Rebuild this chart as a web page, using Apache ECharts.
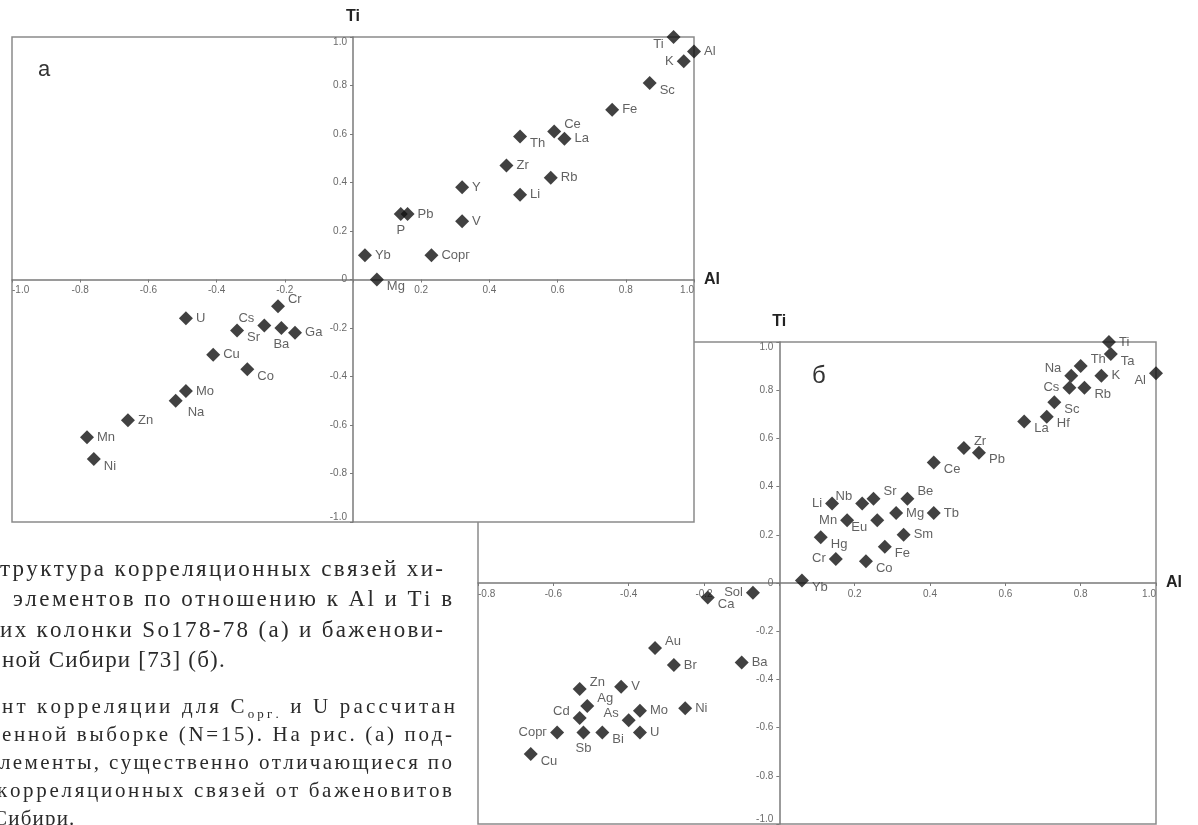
<!DOCTYPE html>
<html>
<head>
    <meta charset="utf-8" />
    <title>Корреляционные связи Al и Ti</title>
    <script src="https://cdn.jsdelivr.net/npm/echarts@6.0.0/dist/echarts.min.js"></script>
    <style>html, body { margin: 0; padding: 0; background: #fff; overflow: hidden; }</style>
</head>
<body>
    <div id="main" style="width: 1198px; height: 825px;"></div>

    <script type="text/javascript">
        // (а) column So178-78: element, r with Al, r with Ti
        var elemA = ['Ti', 'Al', 'K', 'Sc', 'Fe', 'Ce', 'La', 'Th', 'Zr', 'Rb', 'Li', 'Y', 'V', 'Pb', 'P', 'Сорг',
            'Yb', 'Mg', 'U', 'Cr', 'Cs', 'Ba', 'Ga', 'Sr', 'Cu', 'Co', 'Mo', 'Na', 'Zn', 'Mn', 'Ni'];
        var alA = [0.94, 1.0, 0.97, 0.87, 0.76, 0.59, 0.62, 0.49, 0.45, 0.58, 0.49, 0.32, 0.32, 0.16, 0.14, 0.23,
            0.035, 0.07, -0.49, -0.22, -0.26, -0.21, -0.17, -0.34, -0.41, -0.31, -0.49, -0.52, -0.66, -0.78, -0.76];
        var tiA = [1.0, 0.94, 0.90, 0.81, 0.70, 0.61, 0.58, 0.59, 0.47, 0.42, 0.35, 0.38, 0.24, 0.27, 0.27, 0.10,
            0.10, 0.0, -0.16, -0.11, -0.19, -0.20, -0.22, -0.21, -0.31, -0.37, -0.46, -0.50, -0.58, -0.65, -0.74];

        // (б) bazhenovites of West Siberia
        var elemB = ['Ti', 'Ta', 'Th', 'Na', 'K', 'Cs', 'Rb', 'Al', 'Sc', 'Hf', 'La', 'Zr', 'Pb', 'Ce', 'Li', 'Nb',
            'Sr', 'Be', 'Mg', 'Tb', 'Mn', 'Eu', 'Hg', 'Sm', 'Fe', 'Cr', 'Co', 'Yb', 'Sol', 'Ca', 'Au', 'Br', 'Ba',
            'Zn', 'V', 'Ag', 'Cd', 'Mo', 'Ni', 'As', 'Сорг', 'Sb', 'Bi', 'U', 'Cu'];
        var alB = [0.875, 0.88, 0.80, 0.775, 0.855, 0.77, 0.81, 1.0, 0.73, 0.71, 0.65, 0.49, 0.53, 0.41, 0.14, 0.22,
            0.25, 0.34, 0.31, 0.41, 0.18, 0.26, 0.11, 0.33, 0.28, 0.15, 0.23, 0.06, -0.07, -0.19, -0.33, -0.28, -0.10,
            -0.53, -0.42, -0.51, -0.53, -0.37, -0.25, -0.40, -0.59, -0.52, -0.47, -0.37, -0.66];
        var tiB = [1.0, 0.95, 0.90, 0.86, 0.86, 0.81, 0.81, 0.87, 0.75, 0.69, 0.67, 0.56, 0.54, 0.50, 0.33, 0.33,
            0.35, 0.35, 0.29, 0.29, 0.26, 0.26, 0.19, 0.20, 0.15, 0.10, 0.09, 0.01, -0.04, -0.06, -0.27, -0.34, -0.33,
            -0.44, -0.43, -0.51, -0.56, -0.53, -0.52, -0.57, -0.62, -0.62, -0.62, -0.62, -0.71];

        // where each point's name sits relative to the marker
        var placeA = ['lb', 'r', 'l', 'rb', 'r', 'ra', 'r', 'rb', 'r', 'r', 'r', 'r', 'r', 'r', 'b', 'r',
            'r', 'rb', 'r', 'ra', 'la', 'b', 'r', 'rb', 'r', 'rb', 'r', 'rb2', 'r', 'r', 'rb'];
        var placeB = ['r', 'rb', 'ra', 'la', 'r', 'l', 'rb', 'lb', 'rb', 'rb', 'rb', 'ra', 'rb', 'rb', 'l', 'la',
            'ra', 'ra', 'r', 'r', 'l', 'lb', 'rb', 'r', 'rb', 'l', 'rb', 'rb', 'l', 'rb', 'ra', 'r', 'r',
            'ra', 'r', 'ra', 'la', 'r', 'r', 'la', 'l', 'b', 'rb', 'r', 'rb'];

        var captionA = [
            'труктура корреляционных связей хи-',
            'элементов по отношению к Al и Ti в',
            'их колонки So178-78 (а) и баженови-',
            'ной Сибири [73] (б).'
        ];
        var captionB = [
            'нт корреляции для C_орг. и U рассчитан',
            'енной выборке (N=15). На рис. (а) под-',
            'лементы, существенно отличающиеся по',
            'корреляционных связей от баженовитов',
            'Сибири.'
        ];

        var PLACE = {
            r: ['right', [0, 0]], rb: ['right', [0, 7]], rb2: ['right', [2, 12]], ra: ['right', [0, -7]],
            l: ['left', [0, 0]], lb: ['left', [0, 7]], la: ['left', [0, -7]],
            t: ['top', [0, 0]], b: ['bottom', [0, 0]]
        };

        function points(names, xs, ys, place) {
            return names.map(function (n, i) {
                var p = PLACE[place[i]];
                return { name: n, value: [xs[i], ys[i]], label: { position: p[0], offset: p[1] } };
            });
        }

        var grids = [
            { left: 12, top: 37, width: 682, height: 485, xmin: -1 },   // а, on top
            { left: 478, top: 342, width: 678, height: 482, xmin: -0.8 } // б
        ];

        var tickColor = '#6a6a6a';
        var lineColor = '#7a7a7a';

        // the axes cross at zero: shift them from the grid edges onto the zero lines
        function xAxisFor(gi, z) {
            var g = grids[gi];
            return {
                type: 'value', gridIndex: gi, min: g.xmin, max: 1, interval: 0.2, z: z,
                position: 'bottom', offset: -g.height / 2,
                name: 'Al', nameLocation: 'end', nameGap: 10,
                nameTextStyle: { fontSize: 16, fontWeight: 'bold', color: '#222', fontFamily: 'Liberation Sans' },
                axisLine: { onZero: false, lineStyle: { color: lineColor, width: 1.5 } },
                axisTick: { length: 3, lineStyle: { color: lineColor } },
                splitLine: { show: false },
                axisLabel: {
                    fontSize: 10, color: tickColor, fontFamily: 'Liberation Sans', margin: 6,
                    formatter: function (v) { return Math.abs(v) < 1e-9 ? '' : v.toFixed(1); },
                    alignMinLabel: 'left', alignMaxLabel: 'right'
                }
            };
        }
        function yAxisFor(gi, z) {
            var g = grids[gi];
            return {
                type: 'value', gridIndex: gi, min: -1, max: 1, interval: 0.2, z: z,
                position: 'left', offset: -g.width * (0 - g.xmin) / (1 - g.xmin),
                name: 'Ti', nameLocation: 'end', nameGap: 12,
                nameTextStyle: { fontSize: 16, fontWeight: 'bold', color: '#222', fontFamily: 'Liberation Sans' },
                axisLine: { onZero: false, lineStyle: { color: lineColor, width: 1.5 } },
                axisTick: { length: 3, lineStyle: { color: lineColor } },
                splitLine: { show: false },
                axisLabel: {
                    fontSize: 10, color: tickColor, fontFamily: 'Liberation Sans', margin: 6,
                    formatter: function (v) { return Math.abs(v) < 1e-9 ? '0' : v.toFixed(1); },
                    verticalAlignMaxLabel: 'top', verticalAlignMinLabel: 'bottom'
                }
            };
        }

        function scatterFor(gi, data, z) {
            return {
                type: 'scatter', xAxisIndex: gi, yAxisIndex: gi, z: z,
                symbol: 'diamond', symbolSize: 14,
                itemStyle: { color: '#111' },
                label: {
                    show: true, formatter: '{b}', distance: 3,
                    fontSize: 13, color: '#3a3a3a', fontFamily: 'Liberation Sans'
                },
                emphasis: { disabled: true },
                data: data
            };
        }

        // caption lines, justified by spreading letters between x0 and x1
        var ctx = document.createElement('canvas').getContext('2d');
        function measure(s, size) {
            ctx.font = size + 'px "Liberation Serif"';
            return ctx.measureText(s).width;
        }
        var captionEls = [];
        function glyph(ch, x, y, size) {
            captionEls.push({
                type: 'text', x: x, y: y, z: 20, silent: true,
                style: { text: ch, fontSize: size, fontFamily: 'Liberation Serif', fill: '#2a2a2a', verticalAlign: 'middle' }
            });
        }
        function addLine(text, x0, x1, y, size, justify) {
            // build glyph list: [char, size, dy]
            var gl = [];
            text.split(' ').forEach(function (w, wi) {
                if (wi > 0) gl.push([' ', size, 0]);
                if (w.indexOf('C_') === 0) {
                    gl.push(['C', size, 0]);
                    w.slice(2).split('').forEach(function (c) { gl.push([c, Math.round(size * 0.6), size * 0.35]); });
                } else {
                    w.split('').forEach(function (c) { gl.push([c, size, 0]); });
                }
            });
            var widths = gl.map(function (g) { return measure(g[0], g[1]); });
            var natural = widths.reduce(function (s, v) { return s + v; }, 0);
            var ls = justify ? (x1 - x0 - natural) / (gl.length - 1) : 1.2;
            var x = x0;
            gl.forEach(function (g, i) {
                if (g[0] !== ' ') glyph(g[0], x, y + g[2], g[1]);
                x += widths[i] + ls;
            });
        }
        var rowsA = [[0, 443, 570], [13, 452, 600], [0, 443, 631], [2, 0, 661]];
        captionA.forEach(function (t, i) { addLine(t, rowsA[i][0], rowsA[i][1], rowsA[i][2], 23, i < 3); });
        var rowsB = [[2, 455, 707], [2, 452, 735], [0, 452, 763], [-3, 452, 791], [-7, 0, 819]];
        captionB.forEach(function (t, i) { addLine(t, rowsB[i][0], rowsB[i][1], rowsB[i][2], 21, i < 4); });

        var myChart = echarts.init(document.getElementById('main'));

        var option = {
            backgroundColor: '#fff',
            animation: false,
            grid: grids.map(function (g, i) {
                return {
                    left: g.left, top: g.top, width: g.width, height: g.height, z: i === 0 ? 3 : 0,
                    show: true, backgroundColor: '#fff', borderColor: '#8a8a8a', borderWidth: 1.5
                };
            }),
            xAxis: [xAxisFor(0, 4), xAxisFor(1, 1)],
            yAxis: [yAxisFor(0, 4), yAxisFor(1, 1)],
            series: [
                scatterFor(0, points(elemA, alA, tiA, placeA), 5),
                scatterFor(1, points(elemB, alB, tiB, placeB), 2)
            ],
            graphic: [
                { type: 'text', x: 38, y: 70, z: 20, style: { text: 'а', fontSize: 22, fontFamily: 'Liberation Sans', fill: '#333', verticalAlign: 'middle' } },
                { type: 'text', x: 812, y: 376, z: 20, style: { text: 'б', fontSize: 24, fontFamily: 'Liberation Sans', fill: '#333', verticalAlign: 'middle' } }
            ].concat(captionEls)
        };

        myChart.setOption(option);
    </script>
</body>
</html>
